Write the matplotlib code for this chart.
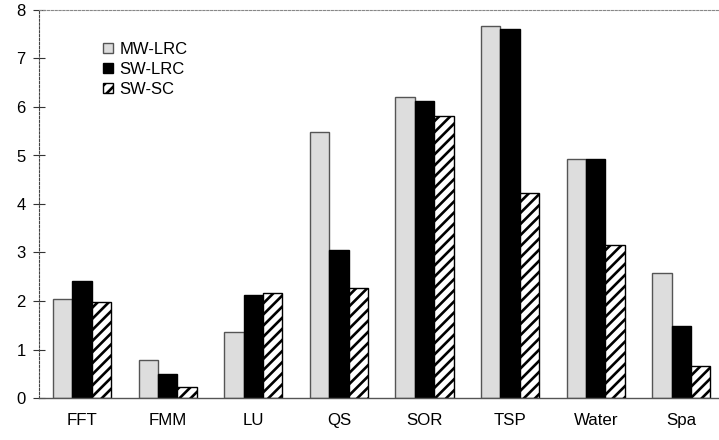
import numpy as np
import matplotlib
matplotlib.use("Agg")
import matplotlib.pyplot as plt

plt.rcParams['font.family'] = ['Liberation Sans', 'DejaVu Sans']
plt.rcParams['hatch.linewidth'] = 1.9

benchmarks = ["FFT", "FMM", "LU", "QS", "SOR", "TSP", "Water", "Spa"]
mw_lrc = [2.05, 0.78, 1.37, 5.48, 6.20, 7.68, 4.93, 2.58]
sw_lrc = [2.42, 0.50, 2.13, 3.05, 6.12, 7.60, 4.92, 1.48]
sw_sc = [1.97, 0.22, 2.17, 2.27, 5.82, 4.23, 3.15, 0.66]

fig = plt.figure(figsize=(7.19, 4.40), dpi=100)
ax = fig.add_axes([39.3 / 719, 1 - 398 / 440, 1 - 39.3 / 719, (398 - 10) / 440])

x = np.arange(len(benchmarks))
w = 0.226
ax.bar(x - w, mw_lrc, w, color="#dddddd", edgecolor="#555555", linewidth=1.0, label="MW-LRC")
ax.bar(x, sw_lrc, w, color="black", edgecolor="black", linewidth=1.0, label="SW-LRC")
ax.bar(x + w, sw_sc, w, color="white", edgecolor="black", linewidth=1.0, hatch="///", label="SW-SC")

ax.set_xlim(-0.5, -0.5 + (719 - 39.3) / 85.6)
ax.set_ylim(0, 8)
ax.set_xticks(x)
ax.set_xticklabels(benchmarks)
ax.set_yticks(range(0, 9))
ax.tick_params(axis="x", length=0, pad=11, labelsize=12.2)
ax.tick_params(axis="y", direction="inout", length=8.6, width=0.8, color="#333333", pad=5.5, labelsize=12)

ax.spines["right"].set_visible(False)
ax.spines["left"].set_linestyle((0, (2, 1.5)))
ax.spines["left"].set_color("#444444")
ax.spines["left"].set_linewidth(0.8)
ax.spines["top"].set_linestyle((0, (2, 1.5)))
ax.spines["top"].set_color("#888888")
ax.spines["top"].set_linewidth(0.8)
ax.spines["bottom"].set_color("#555555")
ax.spines["bottom"].set_linewidth(1.0)

ax.legend(loc="upper left", bbox_to_anchor=(103 / 719, 1 - 42 / 440), bbox_transform=fig.transFigure,
          frameon=False, fontsize=12, handlelength=0.6, handleheight=0.6, handletextpad=0.4,
          labelspacing=0.3, borderpad=0, borderaxespad=0)

fig.savefig("out.png", dpi=100)
